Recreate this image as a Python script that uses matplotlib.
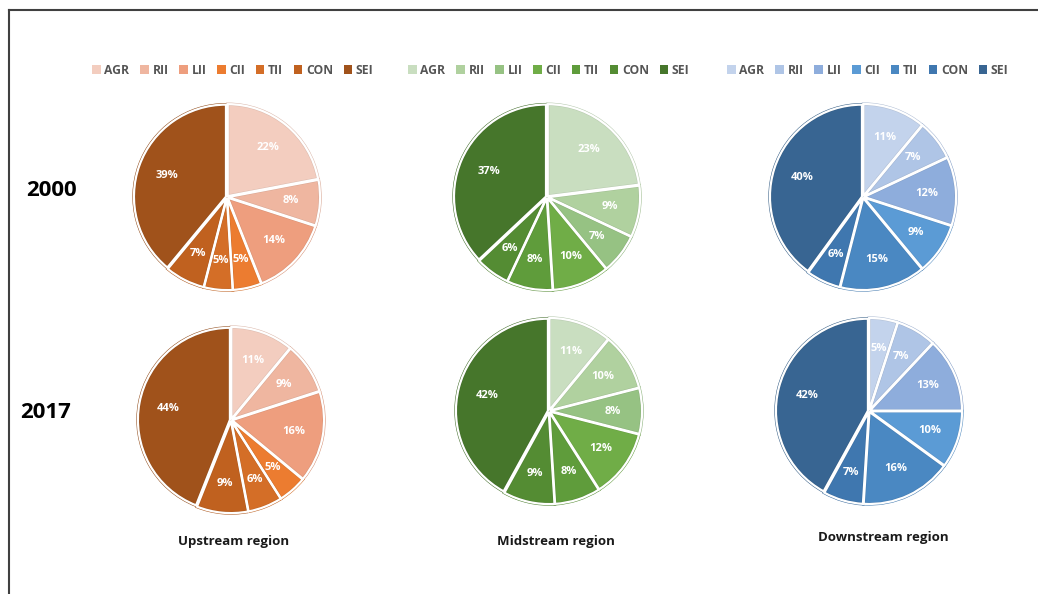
import matplotlib
matplotlib.use('Agg')
import matplotlib.pyplot as plt
from matplotlib.patches import Patch
from matplotlib.lines import Line2D

plt.rcParams['font.family'] = ['Open Sans', 'DejaVu Sans']

# categories and shares (%)
sectors = ['AGR', 'RII', 'LII', 'CII', 'TII', 'CON', 'SEI']
regions = ['Upstream region', 'Midstream region', 'Downstream region']
years = ['2000', '2017']

up_2000 = [22, 8, 14, 5, 5, 7, 39]
up_2017 = [11, 9, 16, 5, 6, 9, 44]
mid_2000 = [23, 9, 7, 10, 8, 6, 37]
mid_2017 = [11, 10, 8, 12, 8, 9, 42]
down_2000 = [11, 7, 12, 9, 15, 6, 40]
down_2017 = [5, 7, 13, 10, 16, 7, 42]

orange = ['#F3CDBF', '#EFB6A0', '#EE9E7E', '#EC7C30', '#D46E27', '#C0611F', '#A0521B']
green = ['#C9DEC0', '#B0D19F', '#96C283', '#70AD47', '#5F9C3B', '#548C33', '#46762B']
blue = ['#C3D3EC', '#AFC5E6', '#8EADDC', '#5B9BD5', '#4A88C2', '#3F77AF', '#386592']

W, H = 1038, 594
fig = plt.figure(figsize=(W / 100, H / 100), dpi=100)

# frame remnants (left and top)
fig.add_artist(Line2D([9 / W, 9 / W], [0, 1 - 10 / H], color='#404040', lw=1.5))
fig.add_artist(Line2D([9 / W, 1], [1 - 10 / H, 1 - 10 / H], color='#404040', lw=1.5))


def darker(hex_color, f=0.9):
    r, g, b = matplotlib.colors.to_rgb(hex_color)
    return (r * f, g * f, b * f)


def draw_pie(cx, cy, R, values, colors):
    ax = fig.add_axes([(cx - R) / W, 1 - (cy + R) / H, 2 * R / W, 2 * R / H])
    explode = [0.012] * len(values)
    wedges, texts, autotexts = ax.pie(
        values, colors=colors, startangle=90, counterclock=False,
        explode=explode, radius=1.0, pctdistance=0.68,
        autopct=lambda p: f'{p:.0f}%',
        wedgeprops=dict(linewidth=2.3),
        textprops=dict(color='white', fontsize=8, fontweight='bold'))
    for w, c in zip(wedges, colors):
        w.set_edgecolor(darker(c))
    # white separators on top of the darker outline
    w2, _ = ax.pie(values, colors=colors, startangle=90,
                   counterclock=False, explode=explode, radius=1.0,
                   wedgeprops=dict(edgecolor='white', linewidth=1.6))
    for w in w2:
        w.set_facecolor('none')
    for t in autotexts:
        t.set_zorder(5)
    for w in list(wedges) + list(w2):
        w.set_clip_on(False)
    ax.set_xlim(-1, 1)
    ax.set_ylim(-1, 1)
    ax.set_aspect('equal')
    ax.axis('off')


draw_pie(227, 197, 92, up_2000, orange)
draw_pie(231, 420, 92, up_2017, orange)
draw_pie(547, 197, 92, mid_2000, green)
draw_pie(549, 411, 92, mid_2017, green)
draw_pie(863, 197, 92, down_2000, blue)
draw_pie(869, 411, 92, down_2017, blue)

# legends
for colors, x in [(orange, 233), (green, 549), (blue, 868)]:
    handles = [Patch(facecolor=c, edgecolor='none') for c in colors]
    fig.legend(handles, sectors, loc='center', bbox_to_anchor=(x / W, 1 - 70 / H),
               ncol=7, frameon=False, handlelength=0.7,
               handleheight=0.7, handletextpad=0.3, columnspacing=0.9,
               labelcolor='#555555', prop=dict(weight='bold', size=8.7))

# row labels
fig.text(51 / W, 1 - 190 / H, years[0], ha='center', va='center',
         fontsize=16, fontweight='bold', color='black')
fig.text(46 / W, 1 - 413 / H, years[1], ha='center', va='center',
         fontsize=16, fontweight='bold', color='black')

# column labels
for name, x, y in zip(regions, [234, 556, 883], [542, 542, 538]):
    fig.text(x / W, 1 - y / H, name, ha='center', va='center',
             fontsize=9.5, fontweight='bold', color='#1a1a1a')

fig.savefig('out.png', dpi=100)
